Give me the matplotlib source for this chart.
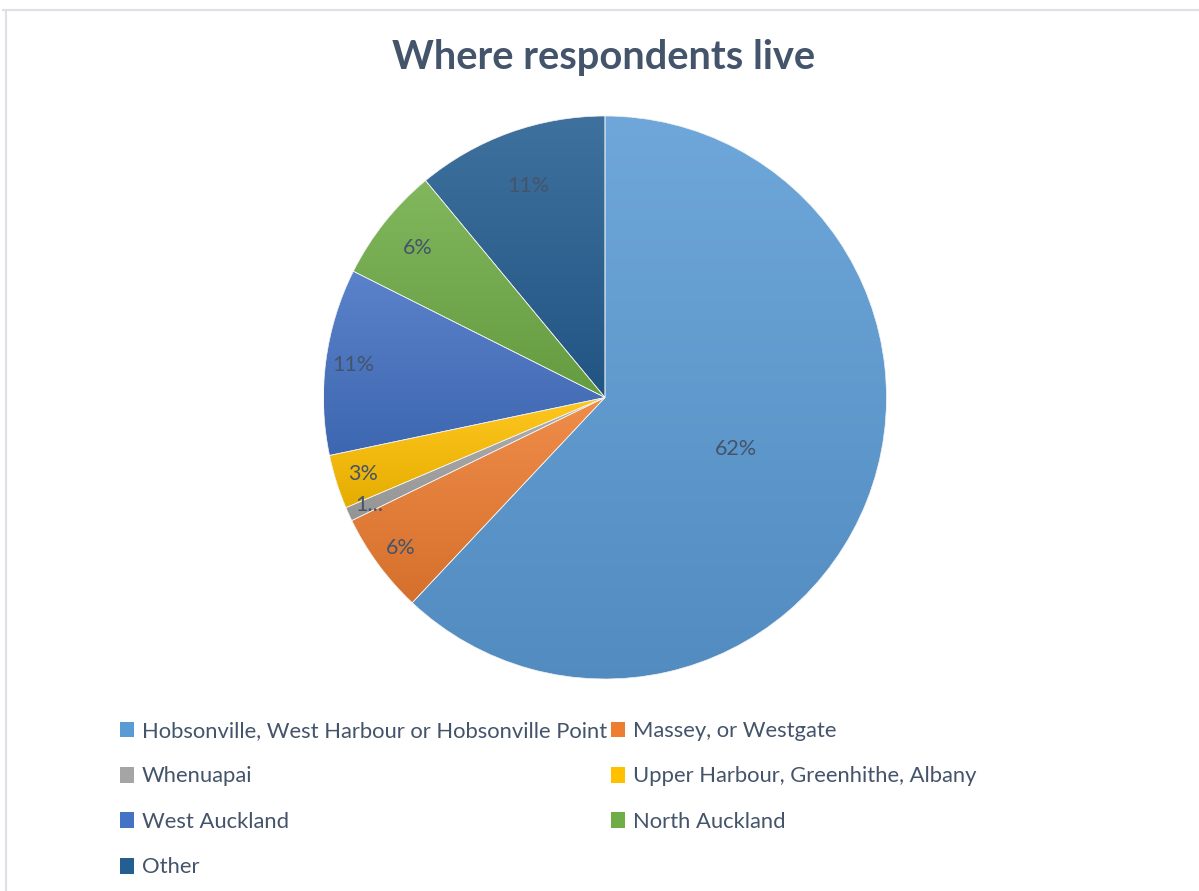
import matplotlib
matplotlib.use('Agg')
import matplotlib.pyplot as plt
from matplotlib.colors import LinearSegmentedColormap, to_rgb
from matplotlib.patches import Patch
from matplotlib.lines import Line2D
import numpy as np

plt.rcParams['font.family'] = ['Lato', 'DejaVu Sans']

# data (percent of respondents)
areas = ['Hobsonville, West Harbour or Hobsonville Point', 'Massey, or Westgate', 'Whenuapai',
         'Upper Harbour, Greenhithe, Albany', 'West Auckland', 'North Auckland', 'Other']
shares = [62.0, 5.8, 0.8, 3.1, 10.7, 6.6, 11.0]
pct_labels = ['62%', '6%', '1...', '3%', '11%', '6%', '11%']

colors = ['#5B9BD5', '#ED7D31', '#A5A5A5', '#FFC000', '#4472C4', '#70AD47', '#255E91']
label_dist = [0.5, 0.9, 0.92, 0.9, 0.9, 0.85, 0.8]
text_col = '#44546A'


def mix(c, other, t):
    c = np.array(to_rgb(c))
    o = np.array(to_rgb(other))
    return tuple(c + (o - c) * t)


W, H = 1199, 891
fig = plt.figure(figsize=(W / 100, H / 100), dpi=100)

# pie placed so that centre ~ (605, 397) px, radius ~ 281 px
cx, cy, r = 605, 397.5, 281.5
ax = fig.add_axes([(cx - r) / W, 1 - (cy + r) / H, 2 * r / W, 2 * r / H])

wedges, _ = ax.pie(shares, colors=colors, startangle=90, counterclock=False, radius=1,
                   wedgeprops=dict(edgecolor='#F2F2F2', linewidth=0.5))

# Excel-like vertical gradient in each slice
grad = np.linspace(0, 1, 256).reshape(-1, 1)
for w, c in zip(wedges, colors):
    ext = w.get_path().get_extents()
    cmap = LinearSegmentedColormap.from_list('g', [mix(c, 'black', 0.1), mix(c, 'white', 0.12)])
    ax.imshow(grad, extent=[ext.x0, ext.x1, ext.y0, ext.y1], origin='lower', cmap=cmap,
              aspect='auto', clip_path=w, zorder=2, interpolation='bilinear')
    w.set_facecolor('none')
    w.set_zorder(3)

for w, lab, d in zip(wedges, pct_labels, label_dist):
    ang = np.deg2rad((w.theta1 + w.theta2) / 2)
    ax.text(d * np.cos(ang), d * np.sin(ang), lab, ha='center', va='center',
            fontsize=15.5, color=text_col, zorder=4)

ax.set_xlim(-1, 1)
ax.set_ylim(-1, 1)
ax.set_aspect('equal')
ax.axis('off')

fig.text(604 / W, 1 - 57 / H, 'Where respondents live', ha='center', va='center',
         fontsize=28.7, fontweight='bold', color=text_col)

# legend, filled row by row like the original
order = [0, 2, 4, 6, 1, 3, 5]
handles = [Patch(facecolor=colors[i], edgecolor='none') for i in order]
labels = [areas[i] for i in order]
fig.legend(handles, labels, ncol=2, loc='upper left', bbox_to_anchor=(120 / W, 1 - 721 / H),
           frameon=False, fontsize=15.8, labelcolor=text_col, handlelength=0.62, handleheight=0.72,
           handletextpad=0.36, columnspacing=0.2, labelspacing=1.16, borderpad=0, borderaxespad=0)

# chart area border (top and left edges visible)
fig.add_artist(Line2D([3 / W, 1], [1 - 10 / H, 1 - 10 / H], color='#DDE1E6', lw=1.5))
fig.add_artist(Line2D([6 / W, 6 / W], [1 - 10 / H, 0], color='#DDE1E6', lw=1.5))

fig.savefig('out.png', dpi=100)
